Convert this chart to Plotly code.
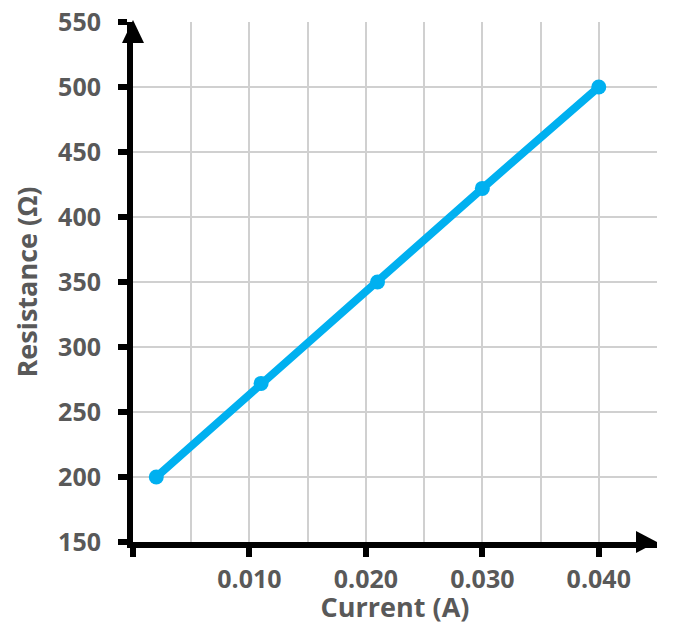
import plotly.graph_objects as go

current_a = [0.002, 0.011, 0.021, 0.030, 0.040]
resistance_ohm = [200, 272, 350, 422, 500]

x_tickvals = [0, 0.010, 0.020, 0.030, 0.040]
x_ticktext = ["", "0.010", "0.020", "0.030", "0.040"]

grey_txt = "#595959"
grid_col = "#D0D0D0"
font_fam = "Open Sans"
tick_font = dict(family=font_fam, size=25, color=grey_txt, weight="bold")
title_font = dict(family=font_fam, size=27, color=grey_txt, weight="bold")

fig = go.Figure(go.Scatter(
    x=current_a,
    y=resistance_ohm,
    mode="lines+markers",
    line=dict(color="#00B0F0", width=8),
    marker=dict(color="#00B0F0", size=15),
    showlegend=False,
))

fig.update_xaxes(
    range=[0, 0.045],
    tickvals=x_tickvals,
    ticktext=x_ticktext,
    ticks="outside", ticklen=9, tickwidth=6, tickcolor="black",
    showline=True, linecolor="black", linewidth=6,
    showgrid=True, gridcolor=grid_col, gridwidth=2,
    minor=dict(tickmode="linear", tick0=0, dtick=0.005, showgrid=True,
               gridcolor=grid_col, gridwidth=2, ticks=""),
    zeroline=False,
    ticklabelstandoff=1,
    ticklabeloverflow="allow",
    tickfont=tick_font,
    title=dict(text="Current (A)", standoff=4, font=title_font),
    automargin=False,
)

fig.update_yaxes(
    range=[150, 550],
    dtick=50,
    ticks="outside", ticklen=9, tickwidth=6, tickcolor="black",
    showline=True, linecolor="black", linewidth=6,
    showgrid=True, gridcolor=grid_col, gridwidth=2,
    zeroline=False,
    ticklabelstandoff=12,
    ticklabeloverflow="allow",
    tickfont=tick_font,
    title=dict(text="Resistance (Ω)", standoff=20, font=title_font),
    automargin="left",
)

# arrowheads at the ends of both axes
fig.add_shape(type="path", xref="paper", yref="paper",
              xsizemode="pixel", ysizemode="pixel", xanchor=1, yanchor=0,
              path="M 0,0 L -21,11 L -21,-11 Z",
              fillcolor="black", line=dict(width=0), layer="above")
fig.add_shape(type="path", xref="paper", yref="paper",
              xsizemode="pixel", ysizemode="pixel", xanchor=0, yanchor=1,
              path="M 0,2 L -11,-21 L 11,-21 Z",
              fillcolor="black", line=dict(width=0), layer="above")

fig.update_layout(
    width=662, height=617,
    margin=dict(l=125, r=13, t=14, b=83),
    plot_bgcolor="white",
    paper_bgcolor="white",
)

fig.write_html("out.html")
